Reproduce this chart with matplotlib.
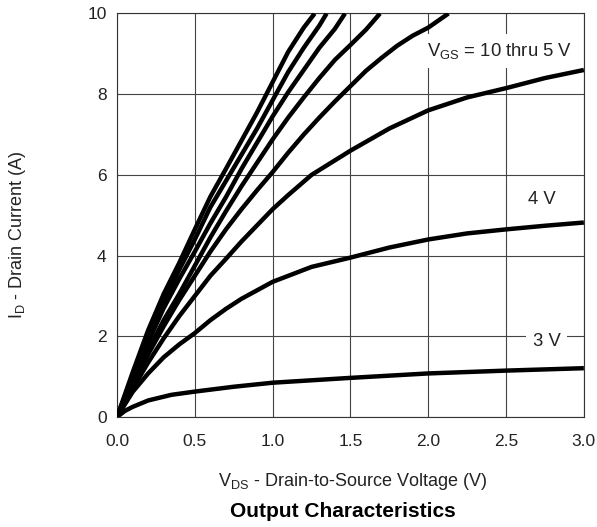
import matplotlib
matplotlib.use("Agg")
import matplotlib.pyplot as plt

plt.rcParams["font.family"] = ["Liberation Sans", "DejaVu Sans"]
plt.rcParams["mathtext.fontset"] = "custom"
plt.rcParams["mathtext.rm"] = "Liberation Sans"

# V_DS (V) and I_D (A), one pair per V_GS
v_10 = [0, 0.1, 0.2, 0.3, 0.4, 0.5, 0.6, 0.7, 0.8, 0.9, 1.0, 1.1, 1.2, 1.27]
i_10 = [0, 1.1, 2.15, 3.05, 3.82, 4.65, 5.46, 6.15, 6.85, 7.55, 8.3, 9.05, 9.65, 10.0]
v_9 = [0, 0.1, 0.2, 0.3, 0.4, 0.5, 0.6, 0.7, 0.8, 0.9, 1.0, 1.1, 1.2, 1.3, 1.347]
i_9 = [0, 1.0, 1.95, 2.85, 3.65, 4.4, 5.2, 5.85, 6.5, 7.15, 7.85, 8.55, 9.15, 9.7, 10.0]
v_8 = [0, 0.1, 0.2, 0.3, 0.4, 0.5, 0.6, 0.7, 0.8, 0.9, 1.0, 1.1, 1.2, 1.3, 1.4, 1.465]
i_8 = [0, 0.95, 1.85, 2.7, 3.42, 4.1, 4.8, 5.45, 6.15, 6.8, 7.45, 8.05, 8.6, 9.15, 9.62, 10.0]
v_7 = [0, 0.1, 0.2, 0.3, 0.4, 0.5, 0.6, 0.7, 0.8, 0.9, 1.0, 1.1, 1.2, 1.3, 1.4, 1.5, 1.6, 1.69]
i_7 = [0, 0.85, 1.65, 2.4, 3.05, 3.75, 4.45, 5.1, 5.72, 6.3, 6.88, 7.42, 7.92, 8.4,
       8.85, 9.22, 9.6, 10.0]
v_6 = [0, 0.1, 0.2, 0.3, 0.4, 0.5, 0.6, 0.7, 0.8, 0.9, 1.0, 1.1, 1.2, 1.3, 1.4, 1.5,
       1.6, 1.7, 1.8, 1.9, 2.0, 2.13]
i_6 = [0, 0.8, 1.55, 2.25, 2.9, 3.5, 4.1, 4.65, 5.15, 5.62, 6.07, 6.55, 7.0, 7.42,
       7.82, 8.2, 8.58, 8.9, 9.2, 9.45, 9.65, 10.0]
v_5 = [0, 0.1, 0.2, 0.3, 0.4, 0.5, 0.6, 0.7, 0.8, 0.9, 1.0, 1.1, 1.25, 1.5, 1.75,
       2.0, 2.25, 2.5, 2.75, 3.0]
i_5 = [0, 0.7, 1.35, 1.95, 2.5, 3.0, 3.5, 3.92, 4.35, 4.75, 5.15, 5.5, 6.0, 6.6,
       7.15, 7.6, 7.92, 8.15, 8.4, 8.6]
v_4 = [0, 0.1, 0.2, 0.3, 0.4, 0.5, 0.6, 0.7, 0.8, 0.9, 1.0, 1.25, 1.5, 1.75, 2.0,
       2.25, 2.5, 2.75, 3.0]
i_4 = [0, 0.62, 1.08, 1.48, 1.8, 2.08, 2.4, 2.68, 2.93, 3.14, 3.35, 3.72, 3.95, 4.2,
       4.4, 4.55, 4.65, 4.74, 4.82]
v_3 = [0, 0.05, 0.1, 0.2, 0.35, 0.5, 0.75, 1.0, 1.5, 2.0, 2.5, 3.0]
i_3 = [0, 0.15, 0.25, 0.41, 0.55, 0.63, 0.75, 0.85, 0.97, 1.08, 1.15, 1.21]

curves = [(v_10, i_10), (v_9, i_9), (v_8, i_8), (v_7, i_7),
          (v_6, i_6), (v_5, i_5), (v_4, i_4), (v_3, i_3)]

x_ticks = [0.0, 0.5, 1.0, 1.5, 2.0, 2.5, 3.0]
y_ticks = [0, 2, 4, 6, 8, 10]

fig = plt.figure(figsize=(5.97, 5.27), dpi=100)
ax = fig.add_axes([0.196, 0.2087, 0.782, 0.7657])
ax.set_axisbelow(True)

for v, i in curves:
    ax.plot(v, i, color="black", linewidth=3.2, solid_capstyle="butt",
            solid_joinstyle="round", zorder=3)

ax.set_xlim(0, 3)
ax.set_ylim(0, 10)
ax.set_xticks(x_ticks)
ax.set_xticklabels([f"{t:.1f}" for t in x_ticks])
ax.set_yticks(y_ticks)
ax.tick_params(length=0, labelsize=12.5, colors="#222222")
ax.tick_params(axis="x", pad=12)
ax.tick_params(axis="y", pad=7.5)
ax.grid(True, color="#444444", linewidth=0.8)
for s in ax.spines.values():
    s.set_color("#333333")
    s.set_linewidth(0.8)

box = dict(facecolor="white", edgecolor="none", pad=5)
ax.text(2.46, 9.07, r"$\mathregular{V_{GS}}$ = 10 thru 5 V", fontsize=13.3,
        ha="center", va="center", bbox=box, zorder=2.5, color="#222222")
ax.text(2.73, 5.39, "4 V", fontsize=13.3, ha="center", va="center",
        bbox=box, zorder=2.5, color="#222222")
ax.text(2.76, 1.87, "3 V", fontsize=13.3, ha="center", va="center",
        bbox=box, zorder=2.5, color="#222222")

fig.text(353 / 597, (527 - 486) / 527,
         r"$\mathregular{V_{DS}}$ - Drain-to-Source Voltage (V)",
         fontsize=13, color="#222222", ha="center", va="baseline")
fig.text(18 / 597, (527 - 235) / 527,
         r"$\mathregular{I_{D}}$ - Drain Current (A)", fontsize=13,
         color="#222222", ha="center", va="center", rotation=90)
fig.text(343 / 597, (527 - 517) / 527, "Output Characteristics", fontsize=15,
         fontweight="bold", ha="center", va="baseline")

fig.savefig("out.png", dpi=100)
